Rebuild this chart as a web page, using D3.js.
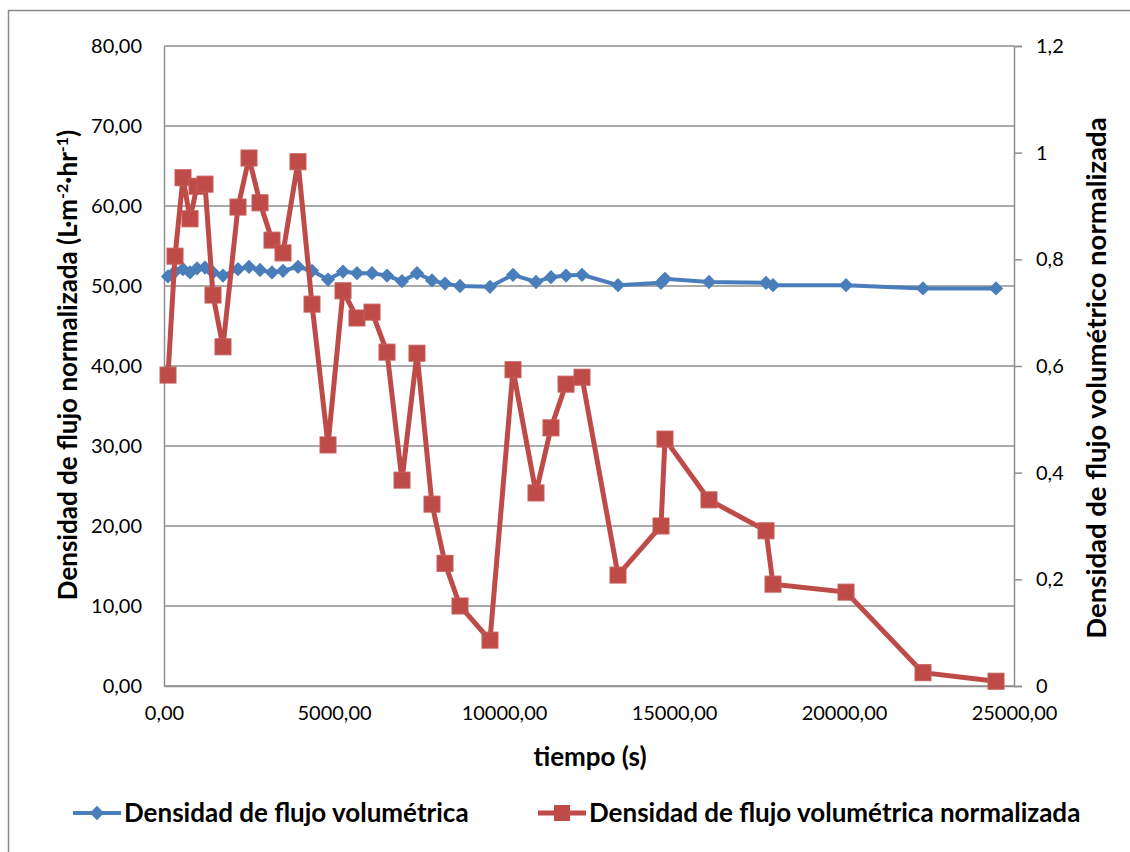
<!DOCTYPE html>
<html>
<head>
<meta charset="utf-8">
<script src="https://cdn.jsdelivr.net/npm/d3@7"></script>
<style>
  body { margin: 0; background: #ffffff; }
  svg text { font-family: Lato, "Liberation Sans", sans-serif; fill: #000; }
</style>
</head>
<body>
<div id="chart"></div>
<script>
// tiempo (s)
const tiempo = [118, 324, 559, 765, 971, 1206, 1441, 1735, 2176, 2500, 2824, 3176, 3500, 3941,
  4353, 4824, 5265, 5676, 6118, 6559, 7000, 7441, 7882, 8265, 8706, 9588, 10265, 10941, 11382,
  11824, 12294, 13353, 14618, 14735, 16029, 17706, 17912, 20059, 22324, 24471];

// Densidad de flujo volumétrica (eje izquierdo)
const densidad = [51.2, 51.8, 52.1, 51.7, 52.2, 52.3, 51.7, 51.3, 52.1, 52.4, 52.0, 51.7, 51.9, 52.4,
  51.9, 50.8, 51.8, 51.6, 51.6, 51.3, 50.6, 51.6, 50.7, 50.3, 50.0, 49.9, 51.4, 50.5, 51.1,
  51.3, 51.4, 50.1, 50.4, 50.9, 50.5, 50.4, 50.1, 50.1, 49.7, 49.7];

// Densidad de flujo volumétrica normalizada (eje derecho)
const normalizada = [0.583, 0.806, 0.953, 0.876, 0.937, 0.941, 0.733, 0.636, 0.898, 0.99, 0.906,
  0.836, 0.812, 0.983, 0.716, 0.452, 0.741, 0.69, 0.701, 0.626, 0.386, 0.624, 0.341, 0.23, 0.15,
  0.086, 0.593, 0.362, 0.484, 0.566, 0.579, 0.208, 0.3, 0.463, 0.349, 0.291, 0.191, 0.176,
  0.025, 0.009];

const xTicks = [0, 5000, 10000, 15000, 20000, 25000];
const yLeftTicks = [0, 10, 20, 30, 40, 50, 60, 70, 80];
const yRightTicks = [0, 0.2, 0.4, 0.6, 0.8, 1, 1.2];

const seriesNames = ['Densidad de flujo volumétrica', 'Densidad de flujo volumétrica normalizada'];
const blue = '#4a7ebb';
const red = '#be4b48';
const gridColor = '#8e8e8e';

const width = 1130, height = 852;
const margin = { top: 46, right: 116, bottom: 166, left: 164 };
const plotW = width - margin.left - margin.right;
const plotH = height - margin.top - margin.bottom;

const svg = d3.select('#chart').append('svg')
  .attr('width', width)
  .attr('height', height);

// outer chart border
svg.append('rect')
  .attr('x', 8.5).attr('y', 10.5)
  .attr('width', 1130).attr('height', 850)
  .attr('fill', 'none')
  .attr('stroke', '#8a8a8a')
  .attr('stroke-width', 1.5);

const g = svg.append('g').attr('transform', `translate(${margin.left},${margin.top})`);

const x = d3.scaleLinear().domain([0, 25000]).range([0, plotW]);
const yL = d3.scaleLinear().domain([0, 80]).range([plotH, 0]);
const yR = d3.scaleLinear().domain([0, 1.2]).range([plotH, 0]);

const comma = (n, d) => n.toFixed(d).replace('.', ',');

// gridlines
g.append('g')
  .selectAll('line')
  .data(yLeftTicks)
  .enter()
  .append('line')
  .attr('x1', 0).attr('x2', plotW)
  .attr('y1', d => yL(d)).attr('y2', d => yL(d))
  .attr('stroke', gridColor)
  .attr('stroke-width', 1.5);

// left axis
const axisL = g.append('g').call(d3.axisLeft(yL).tickValues(yLeftTicks).tickSize(0).tickPadding(22)
  .tickFormat(d => comma(d, 2)));
axisL.select('.domain').attr('stroke', gridColor).attr('stroke-width', 1.5);
axisL.selectAll('text').attr('font-size', 20).style('font-family', 'Lato, sans-serif');

// right axis
const axisR = g.append('g').attr('transform', `translate(${plotW},0)`)
  .call(d3.axisRight(yR).tickValues(yRightTicks).tickSize(8).tickPadding(14)
    .tickFormat(d => (d === 0 || d === 1) ? String(d) : comma(d, 1)));
axisR.select('.domain').attr('stroke', gridColor).attr('stroke-width', 1.5);
axisR.selectAll('.tick line').attr('stroke', gridColor).attr('stroke-width', 1.5);
axisR.selectAll('text').attr('font-size', 20).style('font-family', 'Lato, sans-serif');

// bottom axis
const axisB = g.append('g').attr('transform', `translate(0,${plotH})`)
  .call(d3.axisBottom(x).tickValues(xTicks).tickSize(0).tickPadding(20)
    .tickFormat(d => comma(d, 2)));
axisB.select('.domain').attr('stroke', gridColor).attr('stroke-width', 1.5);
axisB.selectAll('text').attr('font-size', 20).style('font-family', 'Lato, sans-serif');

// axis titles
svg.append('text')
  .attr('x', 590).attr('y', 766)
  .attr('text-anchor', 'middle')
  .attr('font-size', 26).attr('font-weight', 'bold')
  .text('tiempo (s)');

const leftTitle = svg.append('text')
  .attr('transform', 'translate(77,365) rotate(-90)')
  .attr('text-anchor', 'middle')
  .attr('font-size', 26).attr('font-weight', 'bold');
leftTitle.append('tspan').text('Densidad de flujo normalizada (L·m');
leftTitle.append('tspan').attr('dy', -9).attr('font-size', 16).text('-2');
leftTitle.append('tspan').attr('dy', 9).text('·hr');
leftTitle.append('tspan').attr('dy', -9).attr('font-size', 16).text('-1');
leftTitle.append('tspan').attr('dy', 9).text(')');

svg.append('text')
  .attr('transform', 'translate(1106,378) rotate(-90)')
  .attr('text-anchor', 'middle')
  .attr('font-size', 27.5).attr('font-weight', 'bold')
  .text('Densidad de flujo volumétrico normalizada');

// series
const lineL = d3.line().x((d, i) => x(tiempo[i])).y(d => yL(d));
const lineR = d3.line().x((d, i) => x(tiempo[i])).y(d => yR(d));

g.append('path')
  .datum(densidad)
  .attr('d', lineL)
  .attr('fill', 'none')
  .attr('stroke', blue)
  .attr('stroke-width', 4);

const diamond = d3.symbol().type(d3.symbolDiamond2).size(130);
g.selectAll('.dia')
  .data(densidad)
  .enter()
  .append('path')
  .attr('class', 'dia')
  .attr('d', diamond)
  .attr('transform', (d, i) => `translate(${x(tiempo[i])},${yL(d)})`)
  .attr('fill', blue);

g.append('path')
  .datum(normalizada)
  .attr('d', lineR)
  .attr('fill', 'none')
  .attr('stroke', red)
  .attr('stroke-width', 5);

g.selectAll('.sq')
  .data(normalizada)
  .enter()
  .append('rect')
  .attr('class', 'sq')
  .attr('x', (d, i) => x(tiempo[i]) - 8)
  .attr('y', d => yR(d) - 8)
  .attr('width', 16).attr('height', 16)
  .attr('fill', red)
  .attr('stroke', '#c65c59')
  .attr('stroke-width', 1);

// legend
const legend = svg.append('g').attr('transform', 'translate(0,813)');
const legendItems = [
  { x: 73, color: blue, shape: 'diamond' },
  { x: 538, color: red, shape: 'square' }
];
legendItems.forEach((item, i) => {
  const li = legend.append('g').attr('transform', `translate(${item.x},0)`);
  li.append('line')
    .attr('x1', 0).attr('x2', 48)
    .attr('stroke', item.color)
    .attr('stroke-width', i === 0 ? 4 : 5);
  if (item.shape === 'diamond') {
    li.append('path').attr('d', diamond).attr('transform', 'translate(24,0)').attr('fill', item.color);
  } else {
    li.append('rect').attr('x', 16).attr('y', -8).attr('width', 16).attr('height', 16).attr('fill', item.color);
  }
  li.append('text')
    .attr('x', 51).attr('dy', '0.35em')
    .attr('font-size', 26).attr('font-weight', 'bold')
    .text(seriesNames[i]);
});
</script>
</body>
</html>
